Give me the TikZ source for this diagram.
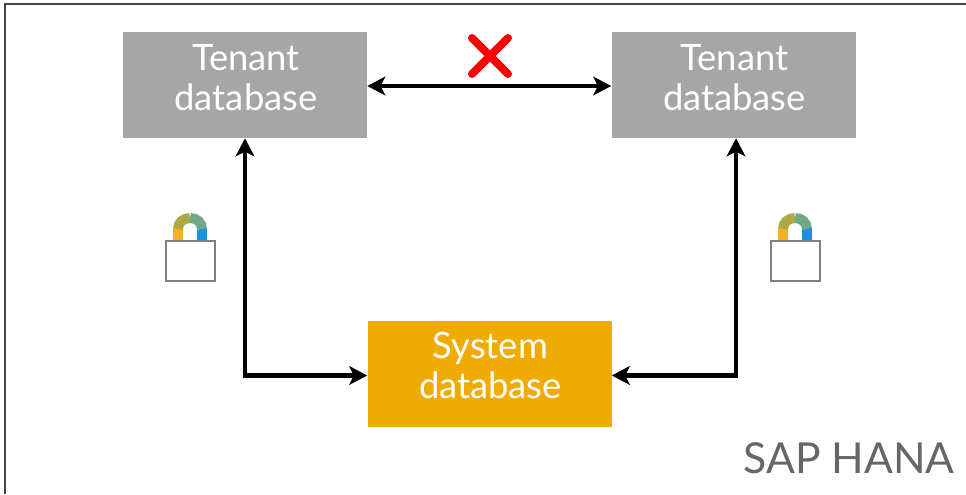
\documentclass[tikz,border=0pt]{standalone}
\usepackage{fontspec}
\setmainfont{Lato}
\usetikzlibrary{arrows.meta}
\definecolor{boxgrey}{HTML}{A6A6A6}
\definecolor{boxgold}{HTML}{F0AB00}
\definecolor{labelgrey}{HTML}{666666}
\definecolor{framegrey}{HTML}{444444}
\definecolor{lockgrey}{HTML}{808080}
\definecolor{shackleA}{HTML}{F5B31A}
\definecolor{shackleB}{HTML}{B0A845}
\definecolor{shackleC}{HTML}{6FA98A}
\definecolor{shackleD}{HTML}{1B92E0}
\tikzset{
  x=0.75pt,y=-0.75pt,
  dbbox/.style={minimum width=183pt,minimum height=79.5pt,inner sep=0pt,anchor=center},
  dblabel/.style={align=center,text=white,font=\fontsize{27.3}{30}\selectfont,inner sep=0pt},
  dconn/.style={line width=3.6pt,{Stealth[length=13.5pt,width=14pt,inset=3.5pt]}-{Stealth[length=13.5pt,width=14pt,inset=3.5pt]}},
  lockbody/.style={draw=lockgrey,line width=1.5pt,fill=white},
  shackle/.style={line width=7.5pt,line cap=butt},
  cross/.style={draw=red,line width=6pt,line cap=round}
}
\newcommand{\lockicon}[2]{%
  \begin{scope}[shift={(#1,#2)}]
    \draw[shackle,draw=shackleA] (-12,0) -- (-12,-13);
    \draw[shackle,draw=shackleD] (12,0) -- (12,-13);
    \draw[shackle,draw=shackleB] (-12,-12) .. controls (-12,-18.6) and (-6.6,-23) .. (0,-23);
    \draw[shackle,draw=shackleC] (0,-23) .. controls (6.6,-23) and (12,-18.6) .. (12,-12);
    \draw[lockbody] (-24.5,0) rectangle (24.5,40);
  \end{scope}}
\begin{document}
\begin{tikzpicture}
\useasboundingbox (0,0) rectangle (966,494);
\fill[white] (0,0) rectangle (966,494);
\draw[framegrey,line width=2pt] (5,494) -- (5,4) -- (966,4);
\node[dbbox,fill=boxgrey] (t1) at (245,85) {};
\node[dbbox,fill=boxgrey] (t2) at (733.5,85) {};
\node[dbbox,fill=boxgold] (s) at (489.5,374) {};
\node[dblabel] (t1l) at (246,78) {Tenant\\database};
\node[dblabel] (t2l) at (734.5,78) {Tenant\\database};
\node[dblabel] (sl) at (490.5,365) {System\\database};
\draw[dconn] ([yshift=-0.75pt]t1.east) -- ([yshift=-0.75pt]t2.west);
\draw[dconn] (t1.south) |- ([yshift=-1.1pt]s.west);
\draw[dconn] ([xshift=1.9pt]t2.south) |- ([yshift=-1.1pt]s.east);
\coordinate (c1) at (472,38);
\coordinate (c2) at (508,74);
\coordinate (c3) at (508,38);
\coordinate (c4) at (472,74);
\draw[cross] (c1) -- (c2);
\draw[cross] (c3) -- (c4);
\lockicon{190}{241}
\lockicon{795}{241}
\node[anchor=east,text=labelgrey,font=\fontsize{32}{36}\selectfont,inner sep=0pt] (hana) at (955,458) {SAP HANA};
\end{tikzpicture}
\end{document}
